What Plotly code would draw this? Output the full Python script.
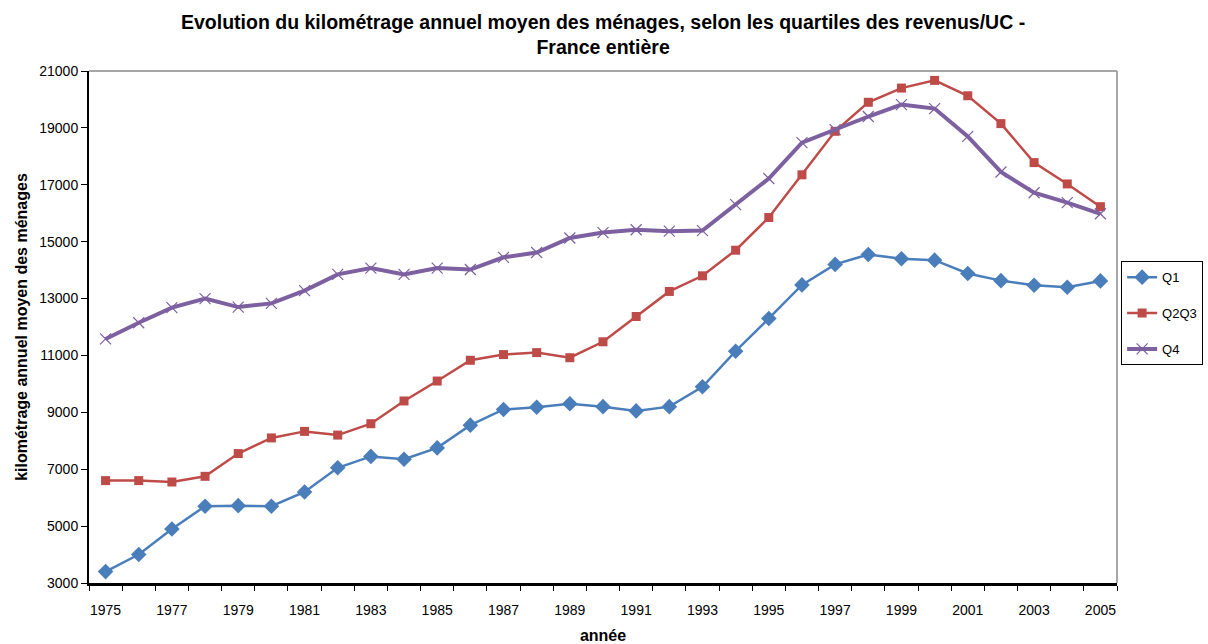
import plotly.graph_objects as go

years = list(range(1975, 2006))
q1 = [3400, 4000, 4900, 5700, 5720, 5700, 6200, 7050, 7450, 7350, 7750, 8550,
      9100, 9180, 9300, 9200, 9050, 9200, 9900, 11150, 12300, 13480, 14200,
      14550, 14400, 14350, 13880, 13630, 13470, 13400, 13620]
q2q3 = [6600, 6600, 6550, 6750, 7550, 8100, 8330, 8200, 8600, 9400, 10100, 10830,
        11030, 11100, 10920, 11480, 12370, 13250, 13800, 14700, 15850, 17350,
        18880, 19900, 20400, 20670, 20130, 19150, 17780, 17030, 16230]
q4 = [11580, 12150, 12680, 13000, 12700, 12830, 13280, 13850, 14070, 13850, 14070,
      14020, 14450, 14620, 15130, 15320, 15420, 15370, 15390, 16300, 17220, 18480,
      18940, 19400, 19820, 19680, 18700, 17450, 16720, 16370, 15980]
xtick_years = list(range(1975, 2006, 2))
xtick_labels = [str(y) for y in xtick_years]
yticks = list(range(3000, 21001, 2000))
ytick_labels = [str(v) for v in yticks]

FONT = "Liberation Sans, Arial, sans-serif"

fig = go.Figure()
fig.add_trace(go.Scatter(x=years, y=q1, name="Q1", mode="lines+markers",
                         line=dict(color="#4A7EBB", width=2.5),
                         marker=dict(symbol="diamond", size=12, color="#4A7EBB"),
                         legendgroup="a"))
fig.add_trace(go.Scatter(x=years, y=q2q3, name="Q2Q3", mode="lines+markers",
                         line=dict(color="#BE4B48", width=2.5),
                         marker=dict(symbol="square", size=9, color="#BE4B48"),
                         legendgroup="b"))
fig.add_trace(go.Scatter(x=years, y=q4, name="Q4", mode="lines+markers",
                         line=dict(color="#7D60A0", width=4),
                         marker=dict(symbol="x-thin", size=11,
                                     line=dict(color="#7D60A0", width=1.2)),
                         legendgroup="c"))

fig.update_layout(
    width=1208, height=644,
    paper_bgcolor="white", plot_bgcolor="white",
    margin=dict(l=89, r=91, t=71, b=61, autoexpand=False),
    font=dict(family=FONT, size=14, color="black"),
    showlegend=True,
    legend=dict(x=1.004, xanchor="left", y=0.527, yanchor="middle",
                bordercolor="black", borderwidth=1, bgcolor="white",
                font=dict(size=13), tracegroupgap=16, traceorder="grouped",
                itemwidth=30),
)
fig.add_annotation(
    text="<b>Evolution du kilométrage annuel moyen des ménages, selon les quartiles des revenus/UC -<br>France entière</b>",
    xref="paper", yref="paper", x=0.5, y=1 + (71 - 34) / 512,
    xanchor="center", yanchor="middle", showarrow=False,
    font=dict(size=19.5, family=FONT))
fig.update_xaxes(
    range=[1974.5, 2005.5], automargin=False,
    tickmode="array", tickvals=xtick_years, ticktext=xtick_labels,
    ticks="", showgrid=False, zeroline=False,
    showline=True, linecolor="black", linewidth=2.5,
    ticklabelstandoff=12,
    minor=dict(tick0=1974.5, dtick=1, ticks="outside", ticklen=5,
               tickcolor="black", showgrid=False),
    title=dict(text="<b>année</b>", font=dict(size=16), standoff=14),
)
fig.update_yaxes(
    range=[3000, 21000], automargin=False,
    tickmode="array", tickvals=yticks, ticktext=ytick_labels,
    ticks="outside", ticklen=6, tickcolor="black",
    showgrid=False, zeroline=False,
    showline=True, linecolor="black", linewidth=2,
    title=dict(text="<b>kilométrage annuel moyen des ménages</b>", font=dict(size=16), standoff=8),
)
# plot-area border (top and right) in gray
fig.add_shape(type="line", xref="paper", yref="paper", x0=0, x1=1, y0=1, y1=1,
              line=dict(color="#A6A6A6", width=2), layer="below")
fig.add_shape(type="line", xref="paper", yref="paper", x0=1, x1=1, y0=0, y1=1,
              line=dict(color="#A6A6A6", width=2), layer="below")

fig.write_html("out.html", config={"displayModeBar": False},
               post_script="document.body.style.margin='0';document.body.style.overflow='hidden';")
